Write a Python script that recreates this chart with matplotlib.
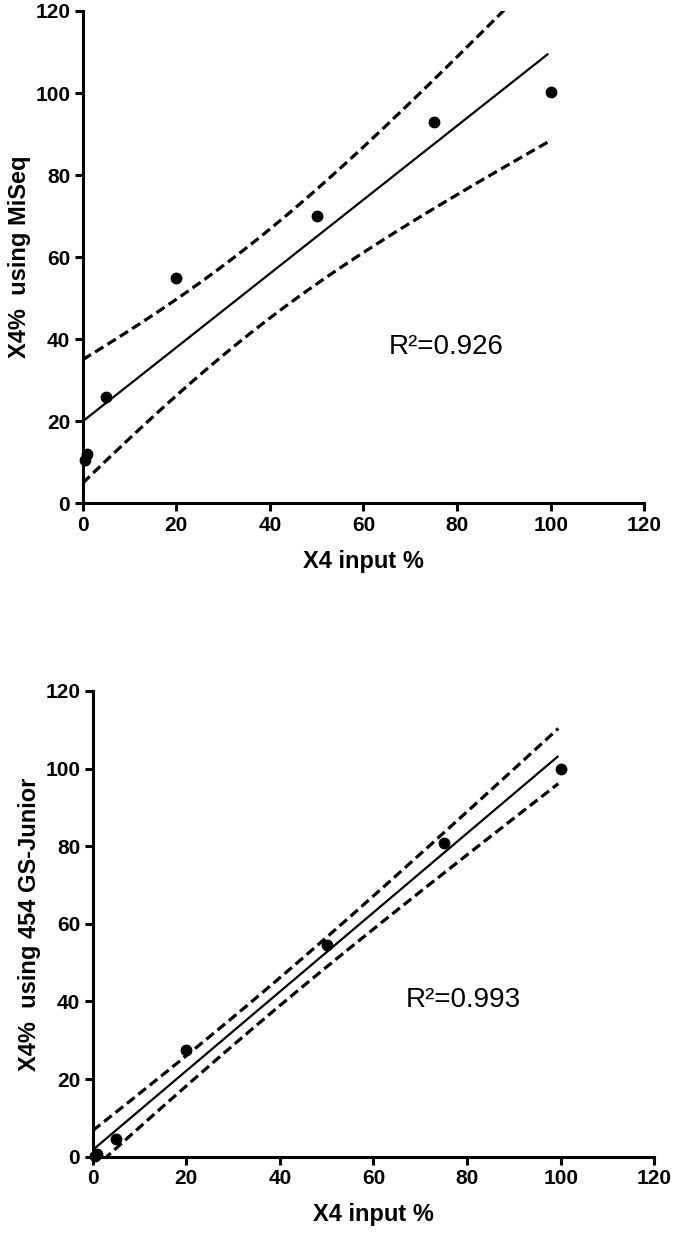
import numpy as np
import matplotlib
matplotlib.use('Agg')
import matplotlib.pyplot as plt

plt.rcParams['font.family'] = ['Liberation Sans', 'DejaVu Sans']
plt.rcParams['lines.scale_dashes'] = False

# datos
x_input = [0.5, 1, 5, 20, 50, 75, 100]
miseq = [10.5, 11.9, 26.0, 54.8, 70.0, 92.9, 100.2]
gs_junior = [0.3, 0.8, 4.6, 27.6, 54.5, 80.9, 99.9]

ylabels = ['X4%  using MiSeq', 'X4%  using 454 GS-Junior']
r2_texts = ['R\u00b2=0.926', 'R\u00b2=0.993']
r2_pos = [(65.5, 38), (67, 40.5)]
ticks = [0, 20, 40, 60, 80, 100, 120]

t95 = 2.571  # t(0.975, gl=5)


def ajuste(x, y):
    x = np.asarray(x, float)
    y = np.asarray(y, float)
    n = len(x)
    b, a = np.polyfit(x, y, 1)
    res = y - (a + b * x)
    s = np.sqrt(np.sum(res**2) / (n - 2))
    sxx = np.sum((x - x.mean())**2)
    xf = np.linspace(0, 99.5, 200)
    yf = a + b * xf
    se = s * np.sqrt(1.0 / n + (xf - x.mean())**2 / sxx)
    return xf, yf, yf - t95 * se, yf + t95 * se


def panel(ax, y, ylabel, r2, pos):
    xf, yf, lo, hi = ajuste(x_input, y)
    ax.plot(xf, yf, color='black', lw=1.6, solid_capstyle='butt')
    ax.plot(xf, hi, color='black', lw=2.3, dashes=(7, 3.5))
    ax.plot(xf, lo, color='black', lw=2.3, dashes=(7, 3.5))
    ax.plot(x_input, y, 'o', color='black', ms=7.5, clip_on=False, zorder=5)
    ax.text(pos[0], pos[1], r2, fontsize=20, va='center', ha='left')
    ax.set_xlim(0, 120)
    ax.set_ylim(0, 120)
    ax.set_xticks(ticks)
    ax.set_yticks(ticks)
    for s in ['top', 'right']:
        ax.spines[s].set_visible(False)
    for s in ['left', 'bottom']:
        ax.spines[s].set_linewidth(2.2)
    ax.tick_params(width=2.2, length=6, labelsize=15, pad=3)
    for lab in ax.get_xticklabels() + ax.get_yticklabels():
        lab.set_fontweight('bold')
    ax.set_xlabel('X4 input %', fontsize=17, fontweight='bold', labelpad=11)
    ax.set_ylabel(ylabel, fontsize=17, fontweight='bold', labelpad=3)


fig = plt.figure(figsize=(6.75, 12.33), dpi=100)
ax1 = fig.add_axes([0.1225, 0.5918, 0.832, 0.3993])
ax2 = fig.add_axes([0.1373, 0.0619, 0.832, 0.3777])

panel(ax1, miseq, ylabels[0], r2_texts[0], r2_pos[0])
panel(ax2, gs_junior, ylabels[1], r2_texts[1], r2_pos[1])

fig.savefig('out.png', dpi=100)
